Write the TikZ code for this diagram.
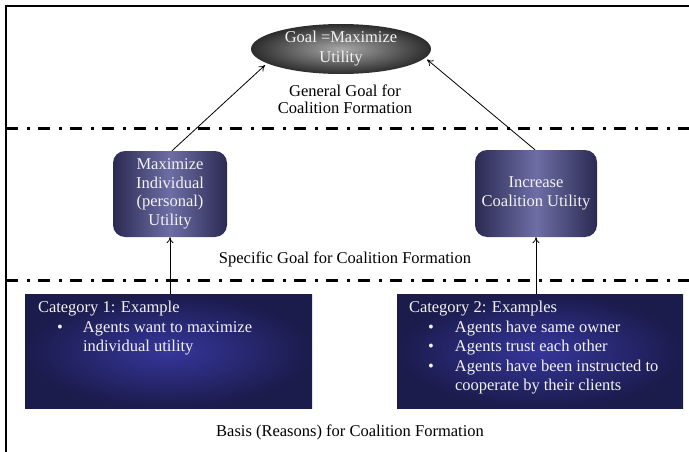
\documentclass[tikz,border=0pt]{standalone}
\usepackage{fontspec}
\setmainfont{Liberation Serif}
\usetikzlibrary{shapes.geometric,arrows.meta}

\definecolor{goalin}{HTML}{A8A8A8}
\definecolor{goalout}{HTML}{2C2C2C}
\definecolor{specedge}{HTML}{2B2A52}
\definecolor{specmid}{HTML}{6E6EA6}
\definecolor{basisin}{HTML}{36369C}
\definecolor{basisout}{HTML}{1B1B4C}
\definecolor{softwhite}{HTML}{F2F2F2}

\tikzset{
  txt/.style={font=\fontsize{16.5}{17}\selectfont, align=center, inner sep=0pt},
  goalshape/.style={ellipse, inner sep=0pt, outer sep=3pt, minimum width=180pt, minimum height=50pt,
    inner color=goalin, outer color=goalout, text=softwhite, txt, font=\fontsize{16.5}{20}\selectfont},
  specbox/.style={rounded corners=12pt, inner sep=0pt, left color=specedge, right color=specedge,
    middle color=specmid, text=softwhite, txt, font=\fontsize{16.5}{18.5}\selectfont},
  basisbox/.style={inner sep=0pt, minimum width=287pt, minimum height=114pt, inner color=basisin,
    outer color=basisout},
  basistext/.style={text=softwhite, inner sep=0pt, anchor=north west, align=left,
    font=\fontsize{16.5}{19.5}\selectfont},
  divider/.style={line width=3pt, dash pattern=on 12pt off 9pt on 3pt off 8pt},
  link/.style={-{To[length=6pt,width=7pt]}, line width=0.8pt},
  frame/.style={line width=2.5pt}
}

\begin{document}
\begin{tikzpicture}[x=1pt, y=-1pt]
  \useasboundingbox (0,0) rectangle (689,452);

  % outer frame (top and left edges)
  \draw[frame] (6,452) -- (6,6) -- (689,6);

  % level separators
  \draw[divider] (6,129) -- (689,129);
  \draw[divider] (6,280) -- (689,280);

  % general goal
  \node[goalshape] (goal) at (341,49) {Goal =Maximize\\Utility};
  \node[txt] (glabel) at (345,99) {General Goal for\\Coalition Formation};

  % specific goals
  \node[specbox, minimum width=114pt, minimum height=86pt] (ind) at (170,194)
    {Maximize\\Individual\\(personal)\\Utility};
  \node[specbox, minimum width=122pt, minimum height=87pt] (coal) at (536,193.5)
    {Increase\\Coalition Utility};
  \node[txt] (slabel) at (345,259) {Specific Goal for Coalition Formation};

  % bases
  \node[basisbox] (cat1) at (168.5,351) {};
  \node[basisbox, minimum width=286pt] (cat2) at (540,351) {};
  \node[basistext] (cat1t) at ([xshift=13pt,yshift=-5pt]cat1.north west) {%
    \begin{tabular}{@{}p{19pt}@{}p{26pt}@{}l@{}}
      \multicolumn{3}{@{}l@{}}{Category 1: Example}\\
      & \textbullet & Agents want to maximize\\
      & & individual utility
    \end{tabular}};
  \node[basistext] (cat2t) at ([xshift=12pt,yshift=-5pt]cat2.north west) {%
    \begin{tabular}{@{}p{19pt}@{}p{27pt}@{}l@{}}
      \multicolumn{3}{@{}l@{}}{Category 2: Examples}\\
      & \textbullet & Agents have same owner\\
      & \textbullet & Agents trust each other\\
      & \textbullet & Agents have been instructed to\\
      & & cooperate by their clients
    \end{tabular}};
  \node[txt] (blabel) at (350,432) {Basis (Reasons) for Coalition Formation};

  % connectors
  \draw[link] (cat1.north -| ind.south) -- (ind.south);
  \draw[link] (cat2.north -| coal.south) -- (coal.south);
  \draw[link] ([xshift=2pt]ind.north) -- (goal.192);
  \draw[link] ([xshift=-1pt]coal.north) -- (goal.353);
\end{tikzpicture}
\end{document}
